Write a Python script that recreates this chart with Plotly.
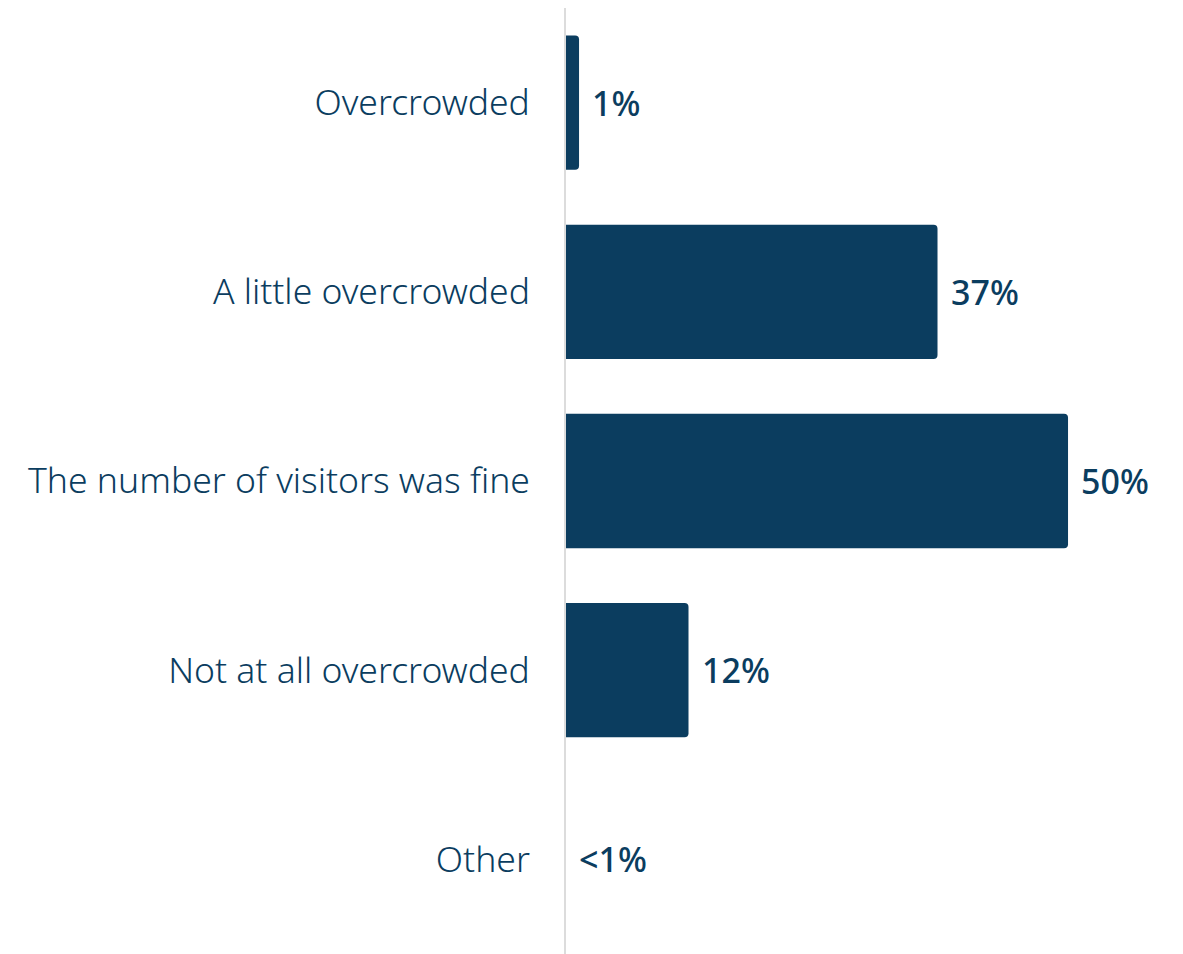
import plotly.graph_objects as go

categories = ["Overcrowded", "A little overcrowded", "The number of visitors was fine",
              "Not at all overcrowded", "Other"]
values = [1.3, 37, 50, 12.2, 0]
labels = ["1%", "37%", "50%", "12%", "<1%"]

navy = "#0b3d5f"

fig = go.Figure(go.Bar(
    x=values, y=categories, orientation="h",
    marker=dict(color=navy, cornerradius=4, line=dict(width=0)),
    hoverinfo="skip",
))

for c, v, t in zip(categories, values, labels):
    fig.add_annotation(x=v, y=c, text=t, showarrow=False, xanchor="left",
                       xshift=11, font=dict(family="Noto Sans", size=34, color=navy, weight=500))

fig.update_layout(
    width=1175, height=946,
    margin=dict(l=558, r=0, t=0, b=0, autoexpand=False),
    plot_bgcolor="white", paper_bgcolor="white",
    bargap=0.29, showlegend=False,
    xaxis=dict(range=[0, 61.45], visible=False, fixedrange=True),
    yaxis=dict(autorange="reversed", showline=True, linecolor="#dcdcdc", linewidth=2,
               showgrid=False, ticks="outside", ticklen=27, tickcolor="rgba(0,0,0,0)",
               tickfont=dict(family="Noto Sans", size=35.5, color=navy, weight=300),
               fixedrange=True),
)

fig.write_html("out.html")
